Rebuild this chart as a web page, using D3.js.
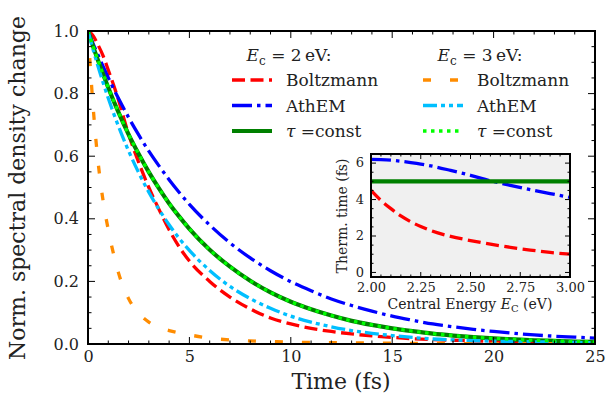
<!DOCTYPE html>
<html>
<head>
<meta charset="utf-8">
<script src="https://cdn.jsdelivr.net/npm/d3@7"></script>
<style>
  html, body { margin: 0; padding: 0; background: #fff; }
  svg text { font-family: "DejaVu Serif", serif; fill: #222; }
</style>
</head>
<body>
<svg id="chart" width="616" height="405"></svg>
<script>
// Time grid (fs) for the decay curves
const time = [0, 0.25, 0.5, 0.75, 1, 1.25, 1.5, 2, 2.5, 3, 3.5, 4, 4.5, 5, 6, 7, 8, 9, 10,
  11, 12, 13, 14, 15, 16, 17, 18, 19, 20, 21, 22, 23, 24, 25];

// E_c = 2 eV
const boltzmann2 = [1, 0.985, 0.955, 0.92, 0.875, 0.83, 0.78, 0.67, 0.58, 0.50, 0.43, 0.365, 0.31, 0.265,
  0.20, 0.15, 0.112, 0.083, 0.064, 0.05, 0.04, 0.032, 0.026, 0.021, 0.017, 0.014, 0.012, 0.010,
  0.009, 0.008, 0.007, 0.006, 0.005, 0.004];
const athem2 = [1, 0.960, 0.923, 0.886, 0.851, 0.817, 0.785, 0.724, 0.668, 0.616, 0.569, 0.525, 0.484,
  0.446, 0.380, 0.323, 0.275, 0.234, 0.199, 0.170, 0.144, 0.123, 0.105, 0.089, 0.076, 0.064, 0.055,
  0.047, 0.040, 0.034, 0.029, 0.025, 0.022, 0.019];
const tauConst2 = [1, 0.951, 0.905, 0.861, 0.819, 0.779, 0.741, 0.670, 0.607, 0.549, 0.497, 0.449, 0.407,
  0.368, 0.301, 0.247, 0.202, 0.165, 0.135, 0.111, 0.091, 0.074, 0.061, 0.050, 0.041, 0.033, 0.027,
  0.022, 0.018, 0.015, 0.012, 0.010, 0.008, 0.007];

// E_c = 3 eV
const boltzmann3 = [1, 0.76, 0.58, 0.455, 0.365, 0.29, 0.228, 0.145, 0.098, 0.07, 0.053, 0.043, 0.035,
  0.029, 0.019, 0.013, 0.010, 0.008, 0.006, 0.005, 0.004, 0.004, 0.003, 0.003, 0.002, 0.002, 0.002,
  0.001, 0.001, 0.001, 0.001, 0.001, 0.001, 0.001];
const athem3 = [1, 0.941, 0.886, 0.834, 0.785, 0.739, 0.696, 0.617, 0.547, 0.485, 0.430, 0.381, 0.337,
  0.299, 0.235, 0.184, 0.145, 0.114, 0.089, 0.070, 0.055, 0.043, 0.034, 0.027, 0.021, 0.016, 0.013,
  0.011, 0.009, 0.008, 0.007, 0.006, 0.005, 0.004];
const tauConst3 = [1, 0.951, 0.905, 0.861, 0.819, 0.779, 0.741, 0.670, 0.607, 0.549, 0.497, 0.449, 0.407,
  0.368, 0.301, 0.247, 0.202, 0.165, 0.135, 0.111, 0.091, 0.074, 0.061, 0.050, 0.041, 0.033, 0.027,
  0.022, 0.018, 0.015, 0.012, 0.010, 0.008, 0.007];

// Inset: thermalization time vs central energy
const energy = [2.0, 2.05, 2.1, 2.15, 2.2, 2.25, 2.3, 2.4, 2.5, 2.6, 2.7, 2.8, 2.9, 3.0];
const thermBoltzmann = [4.5, 3.95, 3.5, 3.1, 2.78, 2.52, 2.3, 1.98, 1.75, 1.55, 1.38, 1.23, 1.1, 1.0];
const thermAthem = [6.2, 6.19, 6.16, 6.1, 6.03, 5.95, 5.85, 5.6, 5.33, 5.03, 4.78, 4.55, 4.33, 4.12];
const thermConst = [5, 5, 5, 5, 5, 5, 5, 5, 5, 5, 5, 5, 5, 5];

// Tick values
const xTicks = [0, 5, 10, 15, 20, 25];
const yTicks = [0, 0.2, 0.4, 0.6, 0.8, 1.0];
const insetXTicks = [2.0, 2.25, 2.5, 2.75, 3.0];
const insetYTicks = [0, 2, 4, 6];

const svg = d3.select("#chart");

// ---------- main panel ----------
const x = d3.scaleLinear().domain([0, 25]).range([88, 595]);
const y = d3.scaleLinear().domain([0, 1]).range([344, 31]);

svg.append("defs").append("clipPath").attr("id", "plotClip")
  .append("rect").attr("x", 88).attr("y", 31).attr("width", 507).attr("height", 313);

const styles = {
  boltzmann2: { color: "#ff0000", width: 3.3, dash: "13,5.5" },
  athem2:     { color: "#0000ff", width: 3.3, dash: "20,5,3.5,5" },
  tauConst2:  { color: "#008000", width: 4.2, dash: null },
  boltzmann3: { color: "#ff8c00", width: 3.3, dash: "8,19" },
  athem3:     { color: "#00bfff", width: 3.3, dash: "14,4,4,4,4,4" },
  tauConst3:  { color: "#00ff00", width: 3.3, dash: "3.5,4.5" }
};

const series = [
  ["boltzmann2", boltzmann2], ["athem2", athem2], ["tauConst2", tauConst2],
  ["boltzmann3", boltzmann3], ["athem3", athem3], ["tauConst3", tauConst3]
];

const line = d3.line().x(d => x(d[0])).y(d => y(d[1])).curve(d3.curveMonotoneX);
const curves = svg.append("g").attr("clip-path", "url(#plotClip)");
series.forEach(([key, vals]) => {
  const s = styles[key];
  curves.append("path")
    .datum(time.map((t, i) => [t, vals[i]]))
    .attr("fill", "none")
    .attr("stroke", s.color)
    .attr("stroke-width", s.width)
    .attr("stroke-dasharray", s.dash)
    .attr("d", line);
});

// inward ticks on all four sides
function frameAxes(g, xs, ys, xt, xm, yt, ym, major, minor) {
  const [x0, x1] = xs.range(), [y0, y1] = ys.range();
  const tk = g.append("g").attr("stroke", "#000").attr("stroke-width", 1);
  xm.forEach(v => {
    const px = xs(v), len = xt.some(t => Math.abs(t - v) < 1e-9) ? major : minor;
    tk.append("line").attr("x1", px).attr("x2", px).attr("y1", y0).attr("y2", y0 - len);
    tk.append("line").attr("x1", px).attr("x2", px).attr("y1", y1).attr("y2", y1 + len);
  });
  ym.forEach(v => {
    const py = ys(v), len = yt.some(t => Math.abs(t - v) < 1e-9) ? major : minor;
    tk.append("line").attr("x1", x0).attr("x2", x0 + len).attr("y1", py).attr("y2", py);
    tk.append("line").attr("x1", x1).attr("x2", x1 - len).attr("y1", py).attr("y2", py);
  });
  g.append("rect").attr("x", x0).attr("y", y1).attr("width", x1 - x0).attr("height", y0 - y1)
    .attr("fill", "none").attr("stroke", "#000").attr("stroke-width", 2);
}

const mainAxes = svg.append("g");
frameAxes(mainAxes, x, y, xTicks, d3.range(0, 25.001, 1), yTicks,
  d3.range(0, 1.0001, 0.05).map(v => +v.toFixed(2)), 7, 3.5);

// tick labels via d3 axes (lines hidden, frame drawn above)
const xAxis = svg.append("g").attr("transform", "translate(0,344)")
  .call(d3.axisBottom(x).tickValues(xTicks).tickSize(0).tickPadding(7).tickFormat(d3.format("d")));
const yAxis = svg.append("g").attr("transform", "translate(88,0)")
  .call(d3.axisLeft(y).tickValues(yTicks).tickSize(0).tickPadding(9).tickFormat(d3.format(".1f")));
[xAxis, yAxis].forEach(a => {
  a.select(".domain").remove();
  a.selectAll("text").attr("font-family", "DejaVu Serif").attr("font-size", 16).attr("fill", "#222");
});

svg.append("text").attr("x", 341).attr("y", 389).attr("text-anchor", "middle")
  .attr("font-size", 22).text("Time (fs)");
svg.append("text").attr("transform", "translate(25,188) rotate(-90)").attr("text-anchor", "middle")
  .attr("font-size", 22).text("Norm. spectral density change");

// ---------- legend ----------
const legend = svg.append("g").attr("font-size", 17);
function header(xc, val) {
  const t = legend.append("text").attr("x", xc).attr("y", 61).attr("text-anchor", "middle");
  t.append("tspan").attr("font-style", "italic").text("E");
  t.append("tspan").attr("font-size", 12).attr("dy", 4).text("c");
  t.append("tspan").attr("dy", -4).text(" = " + val + "\u2009eV:");
}
header(289, "2");
header(480, "3");
const rows = [
  [["boltzmann2", "boltzmann3"], "Boltzmann", 80],
  [["athem2", "athem3"], "AthEM", 105.5],
  [["tauConst2", "tauConst3"], "tau", 131]
];
rows.forEach(([keys, label, yc]) => {
  [[keys[0], 232, 286], [keys[1], 423, 477]].forEach(([key, hx, tx]) => {
    const s = styles[key];
    legend.append("line").attr("x1", hx).attr("x2", hx + 40).attr("y1", yc).attr("y2", yc)
      .attr("stroke", s.color).attr("stroke-width", s.width).attr("stroke-dasharray", s.dash);
    const t = legend.append("text").attr("x", tx).attr("y", yc + 6);
    if (label === "tau") {
      t.append("tspan").attr("font-style", "italic").text("\u03c4");
      t.append("tspan").text("  =const");
    } else {
      t.text(label);
    }
  });
});

// ---------- inset ----------
const xi = d3.scaleLinear().domain([2, 3]).range([371, 570]);
const yi = d3.scaleLinear().domain([-0.25, 6.5]).range([277, 154]);
const inset = svg.append("g");
inset.append("rect").attr("x", 371).attr("y", 154).attr("width", 199).attr("height", 123)
  .attr("fill", "#f0f0f0");
inset.append("defs").append("clipPath").attr("id", "insetClip")
  .append("rect").attr("x", 371).attr("y", 154).attr("width", 199).attr("height", 123);

const insetLine = d3.line().x(d => xi(d[0])).y(d => yi(d[1])).curve(d3.curveMonotoneX);
const insetCurves = inset.append("g").attr("clip-path", "url(#insetClip)");
[[thermBoltzmann, styles.boltzmann2], [thermAthem, styles.athem2], [thermConst, styles.tauConst2]]
  .forEach(([vals, s]) => {
    insetCurves.append("path")
      .datum(energy.map((e, i) => [e, vals[i]]))
      .attr("fill", "none").attr("stroke", s.color).attr("stroke-width", s.width)
      .attr("stroke-dasharray", s.dash).attr("d", insetLine);
  });

frameAxes(inset, xi, yi, insetXTicks, d3.range(2, 3.0001, 0.05).map(v => +v.toFixed(2)),
  insetYTicks, d3.range(0, 6.001, 0.5), 5, 2.5);

const xiAxis = inset.append("g").attr("transform", "translate(0,277)")
  .call(d3.axisBottom(xi).tickValues(insetXTicks).tickSize(0).tickPadding(6).tickFormat(d3.format(".2f")));
const yiAxis = inset.append("g").attr("transform", "translate(371,0)")
  .call(d3.axisLeft(yi).tickValues(insetYTicks).tickSize(0).tickPadding(7).tickFormat(d3.format("d")));
[xiAxis, yiAxis].forEach(a => {
  a.select(".domain").remove();
  a.selectAll("text").attr("font-family", "DejaVu Serif").attr("font-size", 13).attr("fill", "#222");
});
// keep the "0" label clear of the first energy label
yiAxis.selectAll("text").attr("dy", "0.28em");

const xiTitle = inset.append("text").attr("x", 470).attr("y", 308.5).attr("text-anchor", "middle")
  .attr("font-size", 14);
xiTitle.append("tspan").text("Central Energy ");
xiTitle.append("tspan").attr("font-style", "italic").text("E");
xiTitle.append("tspan").attr("font-size", 10).attr("dy", 3).text("C");
xiTitle.append("tspan").attr("dy", -3).text(" (eV)");
inset.append("text").attr("transform", "translate(347,216) rotate(-90)").attr("text-anchor", "middle")
  .attr("font-size", 14).text("Therm. time (fs)");
</script>
</body>
</html>
